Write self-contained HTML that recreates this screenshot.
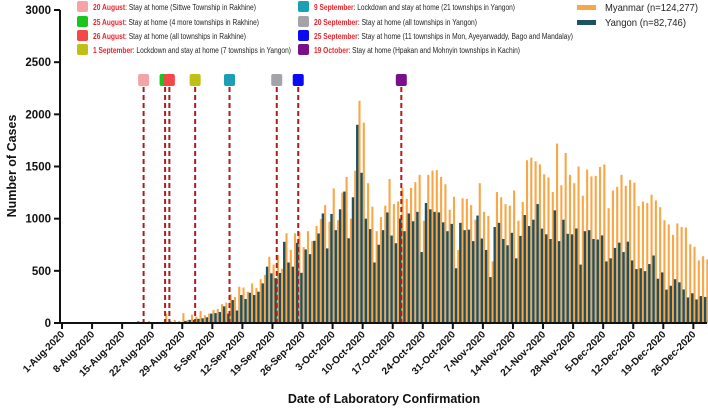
<!DOCTYPE html>
<html><head><meta charset="utf-8">
<style>
body{margin:0;background:#fff;}
svg{display:block;font-family:"Liberation Sans",Arial,sans-serif;}
</style></head>
<body>
<svg id="chart" width="708" height="410" viewBox="0 0 708 410" xmlns="http://www.w3.org/2000/svg"></svg>
<script>
// ---- data (day 0 = 1-Aug-2020) ----
const startLabels = ["1-Aug-2020","8-Aug-2020","15-Aug-2020","22-Aug-2020","29-Aug-2020","5-Sep-2020","12-Sep-2020","19-Sep-2020","26-Sep-2020","3-Oct-2020","10-Oct-2020","17-Oct-2020","24-Oct-2020","31-Oct-2020","7-Nov-2020","14-Nov-2020","21-Nov-2020","28-Nov-2020","5-Dec-2020","12-Dec-2020","19-Dec-2020","26-Dec-2020"];
const yTicks = [0,500,1000,1500,2000,2500,3000];
const myanmar = [0,0,0,0,0,0,0,0,0,0,0,0,0,0,0,0,0,0,10,10,20,0,10,0,90,20,30,20,95,30,80,
60,115,75,90,125,135,180,195,275,250,347,340,300,380,335,420,460,635,560,653,520,860,700,860,
874,727,880,785,930,997,1130,970,1290,985,1250,1400,1000,1460,2130,1920,1340,1115,880,1015,1125,1380,1140,1165,1295,1190,1295,1350,1420,980,1420,1460,
1465,1400,1330,1085,1210,700,1195,1190,1130,990,1340,1065,1025,590,1255,1205,1140,1125,1270,980,1160,1560,1585,1550,1520,1425,1395,1255,1720,1320,1630,1420,1340,
1500,1220,1470,1405,1410,1495,1520,1100,1270,1305,1420,1315,1370,1345,1120,1165,1150,1230,1175,1110,985,945,845,955,920,915,755,730,600,640,610];
const yangon = [0,0,0,0,0,0,0,0,0,0,0,0,0,0,0,0,0,0,15,10,0,0,0,0,10,0,5,0,10,20,30,
30,40,45,55,90,95,105,160,90,220,120,268,230,290,268,300,380,540,476,430,480,778,580,540,
768,481,705,660,788,858,1050,715,1045,890,1090,1260,812,1205,1900,1440,1000,900,580,750,890,1060,838,765,1000,880,1050,975,1065,680,1150,1090,
1065,1060,965,880,950,525,960,890,895,785,1030,810,700,440,920,960,805,745,865,620,835,1035,930,990,1140,905,850,805,1080,785,990,855,850,
906,560,880,890,805,800,840,590,620,720,770,680,780,600,517,525,497,565,647,425,485,320,357,420,390,322,245,285,226,258,250];
const eventDays = [19,24,25,31,39,50,55,79];
const eventColors = ["#f4a3a6","#1ec41e","#f44848","#bfbf16","#1a9fb5","#a3a3a8","#0a0af5","#7a0f8a"];
const eventDates = ["20 August","25 August","26 August","1 September","9 September","20 September","25 September","19 October"];
const eventTexts = [": Stay at home (Sittwe Township in Rakhine)",": Stay at home (4 more townships in Rakhine)",": Stay at home (all townships in Rakhine)",": Lockdown and stay at home (7 townships in Yangon)",": Lockdown and stay at home (21 townships in Yangon)",": Stay at home (all  townships in Yangon)",": Stay at home (11  townships in Mon, Ayeyarwaddy, Bago and Mandalay)",": Stay at home (Hpakan and Mohnyin townships in Kachin)"];
const legendEnds = [256,259,246,291,515,477,573,520];

// ---- axes ----
const X0=62, DX=4.295, Y0=323, KY=0.10433;
const xs = d => X0 + DX*d;
const ys = v => Y0 - v*KY;
const NS="http://www.w3.org/2000/svg";
const svg=document.getElementById('chart');
function mk(tag,attrs,parent){const e=document.createElementNS(NS,tag);for(const k in attrs)e.setAttribute(k,attrs[k]);(parent||svg).appendChild(e);return e;}

// bars
const gBars=mk('g',{});


for(let d=0;d<myanmar.length;d++){
  const c=xs(d);
  if(myanmar[d]>0){const r=mk('rect',{x:c+0.1,y:ys(myanmar[d]),width:2.1,height:Y0-ys(myanmar[d]),fill:"#f9a646"},gBars);
    
    }
  if(yangon[d]>0){const r=mk('rect',{x:c-2.3,y:ys(yangon[d]),width:2.4,height:Y0-ys(yangon[d]),fill:"#1d5266"},gBars);
    
    }
}

// event lines & markers
for(let i=0;i<eventDays.length;i++){
  const x=xs(eventDays[i]);
  const l=mk('line',{x1:x,y1:87,x2:x,y2:Y0,stroke:"#b01c1c","stroke-width":2,"stroke-dasharray":"5,3"});
  
  
  const m=mk('rect',{x:x-5.5,y:74,width:11,height:12,rx:2,fill:eventColors[i]});
  
  
}

// axes lines
const ax=mk('path',{d:`M60,10 V${Y0} H707`,stroke:"#111","stroke-width":2,fill:"none"});


for(const v of yTicks){
  const y=ys(v);
  mk('line',{x1:54,y1:y,x2:60,y2:y,stroke:"#111","stroke-width":2});
  const t=mk('text',{x:51,y:y+4,"text-anchor":"end","font-size":11.5,"font-weight":"bold",fill:"#111"});
  t.textContent=v;
  
  
}
for(let i=0;i<startLabels.length;i++){
  const x=xs(i*7);
  mk('line',{x1:x,y1:Y0,x2:x,y2:Y0+6,stroke:"#111","stroke-width":2});
  const t=mk('text',{x:x+3,y:Y0+12,"text-anchor":"end","font-size":10,"font-weight":"bold",fill:"#111",transform:`rotate(-45 ${x+3} ${Y0+12})`});
  t.textContent=startLabels[i];
  
  
}
const yt=mk('text',{x:0,y:0,"text-anchor":"middle","font-size":12.5,"font-weight":"bold",fill:"#111",transform:"translate(16 166) rotate(-90)"});
yt.textContent="Number of Cases";


const xt=mk('text',{x:384,y:403,"text-anchor":"middle","font-size":12.5,"font-weight":"bold",fill:"#111"});
xt.textContent="Date of Laboratory Confirmation";



// event legend
for(let i=0;i<8;i++){
  const col=i<4?0:1, row=i%4;
  const sx=col?298:77, sy=[1,16,30,44][row];
  const r=mk('rect',{x:sx,y:sy,width:11,height:11,rx:2,fill:eventColors[i]});
  
  
  const tx=sx+16;
  const t=mk('text',{x:tx,y:sy+9,"font-size":7.8,fill:"#222",textLength:legendEnds[i]-tx,lengthAdjust:"spacingAndGlyphs"});
  
  
  const a=mk('tspan',{fill:"#e8242b","font-weight":"bold"},t);a.textContent=eventDates[i];
  const b=mk('tspan',{},t);b.textContent=eventTexts[i];
}
// series legend
const seriesNames=["Myanmar (n=124,277)","Yangon (n=82,746)"], seriesCols=["#f9a646","#1d5266"], seriesLens=[93,81];
for(let i=0;i<2;i++){
  const y=7+i*15;
  const l=mk('rect',{x:577,y:y-2,width:19,height:5,fill:seriesCols[i]});
  
  
  const t=mk('text',{x:605,y:y+4,"font-size":10.5,fill:"#222",textLength:seriesLens[i],lengthAdjust:"spacingAndGlyphs"});
  t.textContent=seriesNames[i];
  
  
}
</script>
</body></html>
